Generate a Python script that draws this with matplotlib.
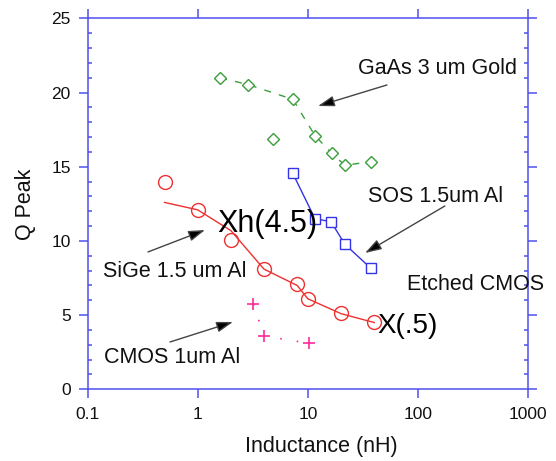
import matplotlib
matplotlib.use('Agg')
from matplotlib import pyplot as plt
from matplotlib.ticker import MultipleLocator, NullLocator, FixedLocator, FixedFormatter

# Data
gaas_L = [1.6, 2.85, 4.8, 7.3, 11.6, 16.5, 21.7, 37.4]
gaas_Q = [21.0, 20.55, 16.85, 19.55, 17.1, 15.9, 15.1, 15.35]
gaas_line_L = [1.6, 2.85, 7.3, 11.6, 16.5, 21.7, 37.4]
gaas_line_Q = [21.0, 20.55, 19.55, 17.1, 15.9, 15.1, 15.35]

sos_L = [7.3, 11.6, 16.2, 21.7, 37.4]
sos_Q = [14.55, 11.5, 11.3, 9.77, 8.15]

sige_L = [0.5, 1, 2, 4, 8, 10, 20, 40]
sige_Q = [14.0, 12.06, 10.04, 8.09, 7.08, 6.06, 5.12, 4.51]
sige_line_Q = [12.6, 12.1, 10.7, 8.1, 7.0, 6.1, 5.1, 4.5]

cmos_L = [3.2, 4.0, 10.2]
cmos_Q = [5.75, 3.6, 3.1]

x_ticks = [0.1, 1, 10, 100, 1000]
x_labels = ['0.1', '1', '10', '100', '1000']
y_ticks = [0, 5, 10, 15, 20, 25]

plt.rcParams['font.family'] = ['Liberation Sans', 'DejaVu Sans']
axis_blue = '#4f4fef'
arrow_grey = '#444444'
text_col = '#111111'

fig = plt.figure(figsize=(5.56, 4.61), dpi=100)
ax = fig.add_axes([87.5 / 556, 1 - 389.3 / 461, 440.8 / 556, 370.8 / 461])

# series
ax.plot(gaas_line_L, gaas_line_Q, color='#3a9e3a', lw=1, linestyle=(0, (5, 6)))
ax.plot(gaas_L, gaas_Q, 'D', ms=6, mfc='white', mec='#3a9e3a', mew=1)

ax.plot(sos_L, sos_Q, '-', color='#3434e6', lw=1)
ax.plot(sos_L, sos_Q, 's', ms=6.5, mfc='white', mec='#3434e6', mew=1)

ax.plot(sige_L, sige_line_Q, '-', color='#ee3030', lw=1)
ax.plot(sige_L, sige_Q, 'o', ms=10, mfc='none', mec='#ee3030', mew=1)

ax.plot(cmos_L, cmos_Q, color='#ff2a9a', lw=1.2, linestyle=(0, (1, 9)))
ax.plot(cmos_L, cmos_Q, '+', ms=8, mec='#ff2a9a', mew=1.2)

# annotations
fs = 15.5
ax.text(28.5, 21.26, 'GaAs 3 um Gold', fontsize=fs, va='baseline', color=text_col)
ax.text(35.1, 12.63, 'SOS 1.5um Al', fontsize=fs, va='baseline', color=text_col)
ax.text(79.3, 6.70, 'Etched CMOS', fontsize=fs, va='baseline', color=text_col, clip_on=False)
ax.text(0.138, 7.57, 'SiGe 1.5 um Al', fontsize=fs, va='baseline', color=text_col)
ax.text(0.141, 1.77, 'CMOS 1um Al', fontsize=fs, va='baseline', color=text_col)
ax.text(1.50, 10.61, 'Xh(4.5)', fontsize=22, va='baseline', color='black')
ax.text(42.4, 3.80, 'X(.5)', fontsize=20, va='baseline', color='black')

arrows = [((52.2, 20.52), (12.35, 19.10)),
          ((175, 12.36), (33.0, 9.19)),
          ((0.354, 9.26), (1.165, 10.74)),
          ((0.561, 3.19), (2.09, 4.54))]
for tail, tip in arrows:
    ax.annotate('', xy=tip, xytext=tail,
                arrowprops=dict(arrowstyle='-|>,head_length=1.0,head_width=0.32',
                                color=arrow_grey, lw=1, fc='black',
                                shrinkA=0, shrinkB=0))

# axes
ax.set_xscale('log')
ax.set_xlim(0.1, 1000)
ax.set_ylim(0, 25)
ax.xaxis.set_major_locator(FixedLocator(x_ticks))
ax.xaxis.set_major_formatter(FixedFormatter(x_labels))
ax.xaxis.set_minor_locator(NullLocator())
ax.yaxis.set_major_locator(FixedLocator(y_ticks))
ax.yaxis.set_minor_locator(MultipleLocator(1))

for s in ax.spines.values():
    s.set_color(axis_blue)
    s.set_linewidth(1.1)

ax.tick_params(axis='x', which='major', direction='out', length=6.5, width=1.1,
               color=axis_blue, top=True, bottom=True, labelsize=12.5, pad=6.5,
               labelcolor=text_col)
ax.tick_params(axis='y', which='major', direction='out', length=6.5, width=1.1,
               color=axis_blue, left=True, right=True, labelsize=12.5, pad=5.5,
               labelcolor=text_col)
ax.tick_params(axis='y', which='minor', direction='in', length=3, width=1.1,
               color=axis_blue, left=True, right=True)

ax.set_xlabel('Inductance (nH)', fontsize=15.5, color=text_col)
ax.xaxis.set_label_coords(0.53, -0.125)
ax.set_ylabel('Q Peak', fontsize=15.5, labelpad=11, color=text_col)

fig.savefig('out.png', dpi=100)
